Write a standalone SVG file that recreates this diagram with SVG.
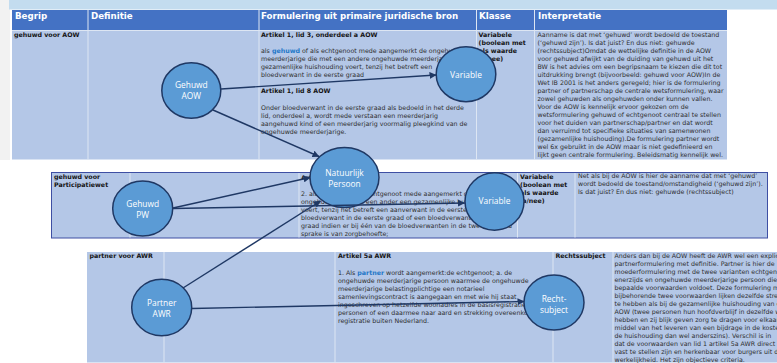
<svg xmlns="http://www.w3.org/2000/svg" width="777" height="363" viewBox="0 0 777 363">
<defs>
<marker id="arr" markerWidth="7" markerHeight="7" refX="6.5" refY="3.5" orient="auto" markerUnits="userSpaceOnUse">
<path d="M0,0 L7,3.5 L0,7 z" fill="#1F3864"/>
</marker>
<style>
.hdr { font-family: "DejaVu Sans", Verdana, sans-serif; font-weight: bold; font-size: 8.7px; fill: #ffffff; }
.t { font-family: "DejaVu Sans", Verdana, sans-serif; font-size: 6.3px; fill: #2e2e2e; }
.b { font-weight: bold; fill: #141414; }
.hl { fill: #1F77C8; font-weight: bold; }
.cell { fill: #B4C7E7; }
.hcell { fill: #4472C4; }
.div { stroke: #dde6f3; stroke-width: 1; }
.node ellipse { fill: #5B9BD5; stroke: #1F3864; stroke-width: 1.5; }
.node text { font-family: "Open Sans", "Liberation Sans", sans-serif; font-size: 8.4px; fill: #ffffff; text-anchor: middle; }
.conn path { stroke: #1F3864; stroke-width: 1.4; fill: none; marker-end: url(#arr); }
</style>
</defs>
<rect x="0" y="0" width="777" height="363" fill="#ffffff"/>
<rect x="0" y="0" width="10" height="160" fill="#f2f2f2"/>
<rect x="9" y="0" width="768" height="9.5" fill="#C3DCEF"/>

<!-- Table 1 -->
<g id="table-aow">
<rect class="hcell" x="12" y="10" width="715" height="20.5"/>
<rect class="cell" x="12" y="30.5" width="715" height="129"/>
<path class="div" d="M88,10 V159.5 M259,10 V159.5 M476.5,10 V159.5 M534.5,10 V159.5 M12,30.5 H727"/>
<text class="hdr" x="15" y="19">Begrip</text>
<text class="hdr" x="91" y="19">Definitie</text>
<text class="hdr" x="261" y="19">Formulering uit primaire juridische bron</text>
<text class="hdr" x="479" y="19">Klasse</text>
<text class="hdr" x="538" y="19">Interpretatie</text>
<text class="t b" x="14" y="37">gehuwd voor AOW</text>
<text class="t b" x="261" y="37">Artikel 1, lid 3, onderdeel a AOW</text>
<text class="t" x="261" y="53">als <tspan class="hl">gehuwd</tspan> of als echtgenoot mede aangemerkt de ongehuwde</text>
<text class="t" x="261" y="61">meerderjarige die met een andere ongehuwde meerderjarige een</text>
<text class="t" x="261" y="69">gezamenlijke huishouding voert, tenzij het betreft een</text>
<text class="t" x="261" y="77">bloedverwant in de eerste graad</text>
<text class="t b" x="261" y="93">Artikel 1, lid 8 AOW</text>
<text class="t" x="261" y="109.5">Onder bloedverwant in de eerste graad als bedoeld in het derde</text>
<text class="t" x="261" y="117.5">lid, onderdeel a, wordt mede verstaan een meerderjarig</text>
<text class="t" x="261" y="125.5">aangehuwd kind of een meerderjarig voormalig pleegkind van de</text>
<text class="t" x="261" y="133.5">ongehuwde meerderjarige.</text>
<text class="t b" x="478.5" y="37">Variabele</text>
<text class="t b" x="478.5" y="45.3">(boolean met</text>
<text class="t b" x="478.5" y="53.3">als waarde</text>
<text class="t b" x="478.5" y="61.3">ja/nee)</text>
<text class="t" x="537.5" y="36.5">Aanname is dat met ‘gehuwd’ wordt bedoeld de toestand</text>
<text class="t" x="537.5" y="44.5">(‘gehuwd zijn’). Is dat juist? En dus niet: gehuwde</text>
<text class="t" x="537.5" y="52.6">(rechtssubject)Omdat de wettelijke definitie in de AOW</text>
<text class="t" x="537.5" y="60.6">voor gehuwd afwijkt van de duiding van gehuwd uit het</text>
<text class="t" x="537.5" y="68.6">BW is het advies om een begripsnaam te kiezen die dit tot</text>
<text class="t" x="537.5" y="76.7">uitdrukking brengt (bijvoorbeeld: gehuwd voor AOW)In de</text>
<text class="t" x="537.5" y="84.7">Wet IB 2001 is het anders geregeld; hier is de formulering</text>
<text class="t" x="537.5" y="92.7">partner of partnerschap de centrale wetsformulering, waar</text>
<text class="t" x="537.5" y="100.7">zowel gehuwden als ongehuwden onder kunnen vallen.</text>
<text class="t" x="537.5" y="108.8">Voor de AOW is kennelijk ervoor gekozen om de</text>
<text class="t" x="537.5" y="116.8">wetsformulering gehuwd of echtgenoot centraal te stellen</text>
<text class="t" x="537.5" y="124.8">voor het duiden van partnerschap/partner en dat wordt</text>
<text class="t" x="537.5" y="132.9">dan verruimd tot specifieke situaties van samenwonen</text>
<text class="t" x="537.5" y="140.9">(gezamenlijke huishouding).De formulering partner wordt</text>
<text class="t" x="537.5" y="148.9">wel 6x gebruikt in de AOW maar is niet gedefinieerd en</text>
<text class="t" x="537.5" y="157">lijkt geen centrale formulering. Beleidsmatig kennelijk wel.</text>
</g>

<!-- Table 2 -->
<g id="table-pw">
<rect class="cell" x="51.5" y="172.5" width="716" height="65.5" stroke="#3E4FA3" stroke-width="1"/>
<path class="div" d="M130,173 V237.5 M299,173 V237.5 M517.5,173 V237.5 M575,173 V237.5"/>
<text class="t b" x="54" y="178.5">gehuwd voor</text>
<text class="t b" x="54" y="186.5">Participatiewet</text>
<text class="t b" x="301" y="179.5">Artikel 3</text>
<text class="t" x="301" y="195.5">2. als gehuwd of als echtgenoot mede aangemerkt de</text>
<text class="t" x="301" y="203.5">ongehuwde die met een ander een gezamenlijke huishouding</text>
<text class="t" x="301" y="211.5">voert, tenzij het betreft een aanverwant in de eerste graad of een</text>
<text class="t" x="301" y="219.5">bloedverwant in de eerste graad of een bloedverwant in de tweede</text>
<text class="t" x="301" y="227.5">graad indien er bij één van de bloedverwanten in de tweede graad</text>
<text class="t" x="301" y="235.5">sprake is van zorgbehoefte;</text>
<text class="t b" x="520" y="179">Variabele</text>
<text class="t b" x="520" y="187">(boolean met</text>
<text class="t b" x="520" y="195">als waarde</text>
<text class="t b" x="520" y="203">ja/nee)</text>
<text class="t" x="578" y="178">Net als bij de AOW is hier de aanname dat met ‘gehuwd’</text>
<text class="t" x="578" y="186">wordt bedoeld de toestand/omstandigheid (‘gehuwd zijn’).</text>
<text class="t" x="578" y="194">Is dat juist? En dus niet: gehuwde (rechtssubject)</text>
</g>

<!-- Table 3 -->
<g id="table-awr">
<rect class="cell" x="87" y="252" width="690" height="110.5"/>
<path class="div" d="M164,252 V362.5 M335,252 V362.5 M553,252 V362.5 M613,252 V362.5"/>
<text class="t b" x="89.5" y="258">partner voor AWR</text>
<text class="t b" x="338" y="258">Artikel 5a AWR</text>
<text class="t" x="338" y="274.5">1. Als <tspan class="hl">partner</tspan> wordt aangemerkt:de echtgenoot; a. de</text>
<text class="t" x="338" y="282.5">ongehuwde meerderjarige persoon waarmee de ongehuwde</text>
<text class="t" x="338" y="290.5">meerderjarige belastingplichtige een notarieel</text>
<text class="t" x="338" y="298.5">samenlevingscontract is aangegaan en met wie hij staat</text>
<text class="t" x="338" y="306.5">ingeschreven op hetzelfde woonadres in de basisregistratie</text>
<text class="t" x="338" y="314.5">personen of een daarmee naar aard en strekking overeenkomstige</text>
<text class="t" x="338" y="322.5">registratie buiten Nederland.</text>
<text class="t b" x="555.5" y="258">Rechtssubject</text>
<text class="t" x="614.5" y="258">Anders dan bij de AOW heeft de AWR wel een expliciete</text>
<text class="t" x="614.5" y="266">partnerformulering met definitie. Partner is hier de</text>
<text class="t" x="614.5" y="274">moederformulering met de twee varianten echtgenoot</text>
<text class="t" x="614.5" y="282">enerzijds en ongehuwde meerderjarige persoon die aan</text>
<text class="t" x="614.5" y="290">bepaalde voorwaarden voldoet. Deze formulering met</text>
<text class="t" x="614.5" y="298">bijbehorende twee voorwaarden lijken dezelfde strekking</text>
<text class="t" x="614.5" y="306">te hebben als bij de gezamenlijke huishouding van de</text>
<text class="t" x="614.5" y="314">AOW (twee personen hun hoofdverblijf in dezelfde woning</text>
<text class="t" x="614.5" y="322">hebben en zij blijk geven zorg te dragen voor elkaar door</text>
<text class="t" x="614.5" y="330">middel van het leveren van een bijdrage in de kosten van</text>
<text class="t" x="614.5" y="338">de huishouding dan wel anderszins). Verschil is in</text>
<text class="t" x="614.5" y="346">dat de voorwaarden van lid 1 artikel 5a AWR direct</text>
<text class="t" x="614.5" y="354">vast te stellen zijn en herkenbaar voor burgers uit de</text>
<text class="t" x="614.5" y="361.8">werkelijkheid. Het zijn objectieve criteria.</text>
</g>

<!-- Nodes -->
<g id="gehuwd-aow" class="node"><ellipse cx="191.3" cy="90.5" rx="29.5" ry="27.8"/><text x="191.3" y="88">Gehuwd</text><text x="191.3" y="99.3">AOW</text></g>
<g id="variable-aow" class="node"><ellipse cx="466" cy="74.2" rx="29.8" ry="27.5"/><text x="466" y="77.8">Variable</text></g>
<g id="natuurlijk-persoon" class="node"><ellipse cx="344.5" cy="177.5" rx="34.5" ry="30"/><text x="344.5" y="176">Natuurlijk</text><text x="344.5" y="187.3">Persoon</text></g>
<g id="gehuwd-pw" class="node"><ellipse cx="142.7" cy="208.5" rx="30" ry="27.5"/><text x="142.7" y="207">Gehuwd</text><text x="142.7" y="218">PW</text></g>
<g id="variable-pw" class="node"><ellipse cx="494.5" cy="201.5" rx="29.5" ry="28.7"/><text x="494.5" y="204">Variable</text></g>
<g id="partner-awr" class="node"><ellipse cx="161.7" cy="307.5" rx="30" ry="28.2"/><text x="161.7" y="306.3">Partner</text><text x="161.7" y="317">AWR</text></g>
<g id="rechtsubject" class="node"><ellipse cx="554" cy="302.5" rx="30" ry="27.5"/><text x="554" y="301.5">Recht-</text><text x="554" y="312.5">subject</text></g>

<!-- Connectors -->
<g id="connectors" class="conn">
<path d="M221,89 L436,75"/>
<path d="M213,110 L319,156.5"/>
<path d="M173,208 L310,177.5"/>
<path d="M173,208.5 L464.5,203"/>
<path d="M183,288 L320.5,201"/>
<path d="M192,308.5 L524,301.5"/>
</g>
</svg>
